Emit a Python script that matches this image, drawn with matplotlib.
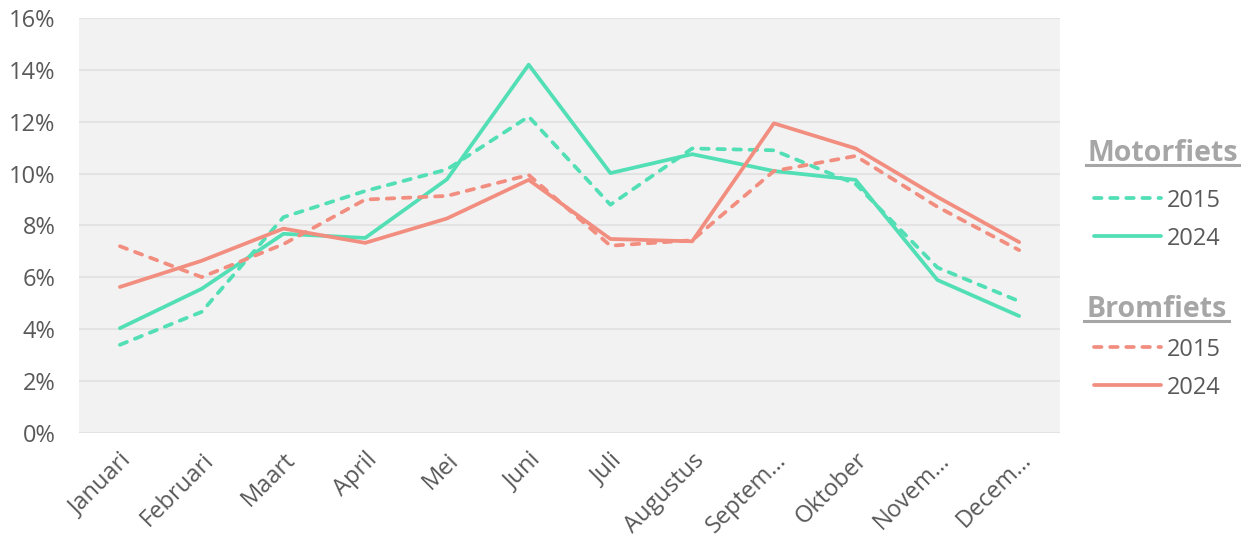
import matplotlib
matplotlib.use("Agg")
import matplotlib.pyplot as plt
from matplotlib.lines import Line2D
from matplotlib.ticker import FuncFormatter

months = ["Januari", "Februari", "Maart", "April", "Mei", "Juni", "Juli",
          "Augustus", "Septem…", "Oktober", "Novem…", "Decem…"]

motor_2015 = [3.4, 4.67, 8.32, 9.33, 10.16, 12.2, 8.8, 10.97, 10.9, 9.6, 6.38, 5.08]
motor_2024 = [4.04, 5.56, 7.68, 7.52, 9.78, 14.2, 10.02, 10.75, 10.1, 9.76, 5.9, 4.51]
brom_2015 = [7.2, 6.01, 7.28, 9.0, 9.14, 9.95, 7.22, 7.43, 10.1, 10.68, 8.72, 7.05]
brom_2024 = [5.63, 6.64, 7.88, 7.33, 8.27, 9.76, 7.48, 7.39, 11.94, 10.97, 9.1, 7.36]

yticks = [0, 2, 4, 6, 8, 10, 12, 14, 16]

TEAL = "#52DFB5"
SALMON = "#F28E80"
TEXT = "#595959"
HEAD = "#A6A6A6"

plt.rcParams["font.family"] = ["Open Sans", "DejaVu Sans"]

fig = plt.figure(figsize=(12.49, 5.36), dpi=100)
ax = fig.add_axes([0.0633, 0.1922, 0.7854, 0.7742])
ax.set_facecolor("#F2F2F2")

x = list(range(len(months)))
lw = 2.7
DASH = (0, (2.0, 2.3))
ax.plot(x, motor_2015, color=TEAL, lw=lw, ls=DASH, dash_capstyle="round")
ax.plot(x, motor_2024, color=TEAL, lw=lw, solid_capstyle="round")
ax.plot(x, brom_2015, color=SALMON, lw=lw, ls=DASH, dash_capstyle="round")
ax.plot(x, brom_2024, color=SALMON, lw=lw, solid_capstyle="round")

ax.set_xlim(-0.5, len(months) - 0.5)
ax.set_ylim(0, 16)
ax.set_yticks(yticks)
ax.yaxis.set_major_formatter(FuncFormatter(lambda v, p: f"{v:.0f}%"))
ax.grid(axis="y", color="#E3E3E3", lw=1.5)
ax.set_axisbelow(True)
for s in ax.spines.values():
    s.set_visible(False)
ax.tick_params(axis="both", length=0, colors=TEXT, labelsize=17)
ax.tick_params(axis="y", pad=17)
ax.set_xticks(x)
ax.set_xticklabels(months, rotation=45, ha="right", rotation_mode="anchor")
ax.tick_params(axis="x", pad=11)


def px(xp, yp):
    return xp / 1249, 1 - yp / 536


def heading(text, x0, x1, ybase, yu):
    fx, fy = px((x0 + x1) / 2, ybase)
    fig.text(fx, fy, text, color=HEAD, fontsize=20.5, fontweight="bold",
             ha="center", va="baseline")
    a, b = px(x0, yu)
    c, _ = px(x1, yu)
    fig.add_artist(Line2D([a, c], [b, b], color=HEAD, lw=2.2, transform=fig.transFigure))


def entry(label, color, dashed, yc):
    a, b = px(1094, yc)
    c, _ = px(1161, yc)
    fig.add_artist(Line2D([a, c], [b, b], color=color, lw=lw,
                          ls=DASH if dashed else "-",
                          dash_capstyle="round", solid_capstyle="round",
                          transform=fig.transFigure))
    tx, ty = px(1167, yc)
    fig.text(tx, ty, label, color=TEXT, fontsize=17, ha="left", va="center_baseline")


heading("Motorfiets", 1086, 1239, 161, 165.5)
entry("2015", TEAL, True, 198)
entry("2024", TEAL, False, 236)
heading("Bromfiets", 1084, 1229, 317, 321)
entry("2015", SALMON, True, 347)
entry("2024", SALMON, False, 385)

fig.savefig("out.png", dpi=100, facecolor="white")
